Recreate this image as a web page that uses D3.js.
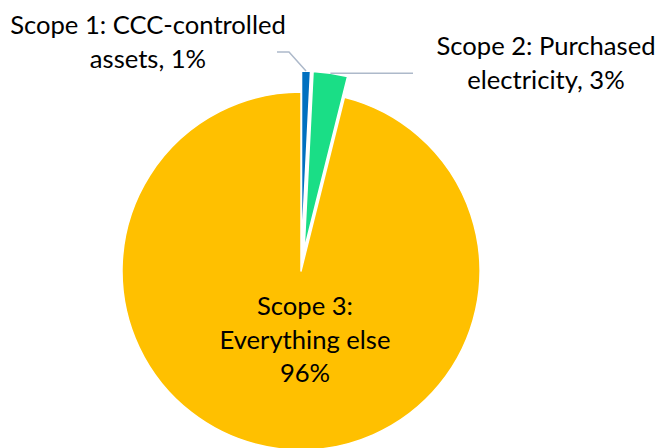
<!DOCTYPE html>
<html>
<head>
<meta charset="utf-8">
<script src="https://cdn.jsdelivr.net/npm/d3@7"></script>
<style>
  html, body { margin: 0; padding: 0; background: #fff; }
  svg text { font-family: Lato, "Open Sans", sans-serif; fill: #000; }
</style>
</head>
<body>
<svg id="chart" width="664" height="448"></svg>
<script>
const categories = ["Scope 1: CCC-controlled assets", "Scope 2: Purchased electricity", "Scope 3: Everything else"];
const values = [0.8, 3.1, 96.1];
const colors = ["#0070C0", "#1ADE86", "#FFC000"];
const exploded = [true, true, false];
const labelLines = [
  ["Scope 1: CCC-controlled", "assets, {p}"],
  ["Scope 2: Purchased", "electricity, {p}"],
  ["Scope 3:", "Everything else", "{p}"]
];

const width = 664;
const height = 448;
const cx = 301;
const cy = 271;
const radius = 179;
const explodeDist = 21;
const fontSize = 25.6;
const lineH = 33.5;

const svg = d3.select("#chart");

const total = d3.sum(values);
const data = categories.map((c, i) => ({
  name: c,
  value: values[i],
  color: colors[i],
  exploded: exploded[i],
  lines: labelLines[i].map(s => s.replace("{p}", Math.round(values[i] / total * 100) + "%"))
}));

const pie = d3.pie().sort(null).value(d => d.value);
const arc = d3.arc().innerRadius(0).outerRadius(radius);
const arcs = pie(data);

function offsetOf(a) {
  if (!a.data.exploded) return [0, 0];
  const mid = (a.startAngle + a.endAngle) / 2;
  return [explodeDist * Math.sin(mid), -explodeDist * Math.cos(mid)];
}

function outerPoint(a) {
  const mid = (a.startAngle + a.endAngle) / 2;
  const [ox, oy] = offsetOf(a);
  return [cx + ox + radius * Math.sin(mid), cy + oy - radius * Math.cos(mid)];
}

const g = svg.append("g");

g.selectAll("path.slice")
  .data(arcs)
  .join("path")
  .attr("class", "slice")
  .attr("transform", d => {
    const [ox, oy] = offsetOf(d);
    return `translate(${cx + ox},${cy + oy})`;
  })
  .attr("d", arc)
  .attr("fill", d => d.data.color)
  .attr("stroke", "#fff")
  .attr("stroke-width", 1.5)
  .attr("stroke-linejoin", "round");

// leader lines (label anchor positions from the reference layout)
const leaderStroke = "#ADB9CA";
const p0 = outerPoint(arcs[0]);
g.append("polyline")
  .attr("points", [p0, [289, 52], [277, 52]].map(p => p.join(",")).join(" "))
  .attr("fill", "none")
  .attr("stroke", leaderStroke)
  .attr("stroke-width", 1.5);

const p1 = outerPoint(arcs[1]);
g.append("polyline")
  .attr("points", [p1, [413, p1[1]]].map(p => p.join(",")).join(" "))
  .attr("fill", "none")
  .attr("stroke", leaderStroke)
  .attr("stroke-width", 1.5);

// labels
const labelPos = [
  { x: 148, y: 34 },
  { x: 546, y: 55 },
  { x: 305, y: 315 }
];

data.forEach((d, i) => {
  const t = g.append("text")
    .attr("text-anchor", "middle")
    .attr("font-size", fontSize);
  d.lines.forEach((line, j) => {
    t.append("tspan")
      .attr("x", labelPos[i].x)
      .attr("y", labelPos[i].y + j * lineH)
      .text(line);
  });
});
</script>
</body>
</html>
